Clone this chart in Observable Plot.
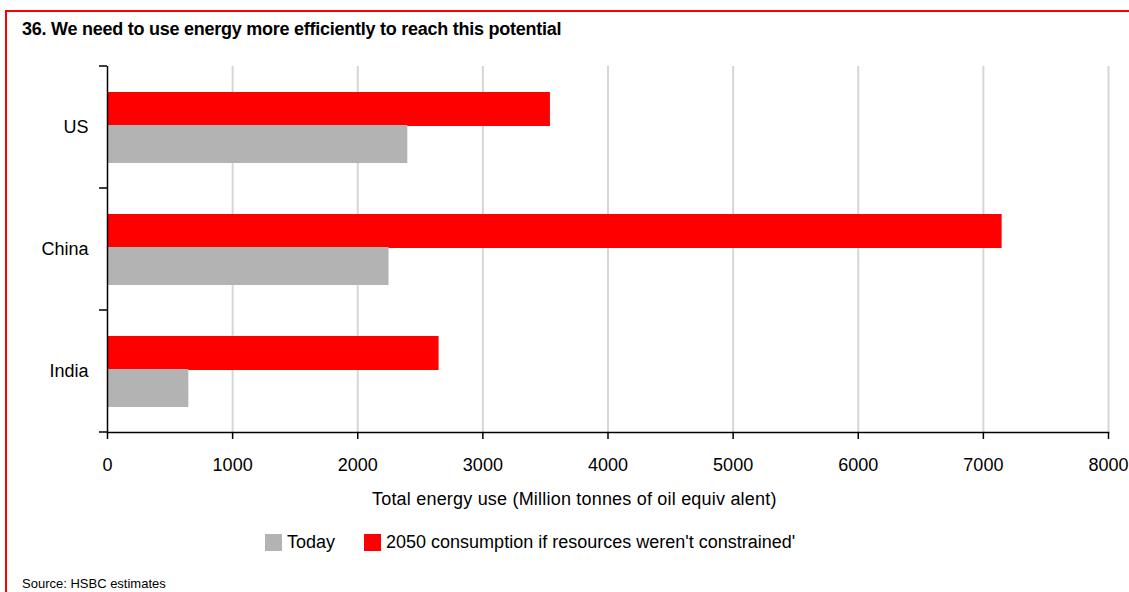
<!DOCTYPE html>
<html>
<head>
<meta charset="utf-8">
<script src="https://cdn.jsdelivr.net/npm/d3@7"></script>
<script src="https://cdn.jsdelivr.net/npm/@observablehq/plot@0.6"></script>
<style>
  html, body { margin: 0; padding: 0; background: #fff; width: 1129px; height: 592px; overflow: hidden; }
  body { font-family: "Liberation Sans", Arial, sans-serif; position: relative; }
  #frame { position: absolute; left: 5px; top: 10px; width: 1200px; height: 700px; border-left: 2px solid #ff0000; border-top: 2px solid #ff0000; }
  #title { position: absolute; left: 22px; top: 19px; font-family: "Liberation Sans", Arial, sans-serif; font-weight: bold; font-size: 18px; letter-spacing: -0.25px; color: #000; white-space: nowrap; }
  #chart { position: absolute; left: 0; top: 0; }
  #xlabel { position: absolute; left: 372px; top: 489px; font-size: 18px; letter-spacing: 0.2px; white-space: nowrap; color: #000; }
  #legend { position: absolute; left: 265px; top: 532px; font-size: 18px; white-space: nowrap; display: flex; align-items: center; }
  #legend .item { display: flex; align-items: center; margin-right: 29px; }
  #legend .sw { width: 17px; height: 17px; margin-right: 5px; display: inline-block; }
  #source { position: absolute; left: 22px; top: 576px; font-size: 13px; white-space: nowrap; }
</style>
</head>
<body>
<div id="frame"></div>
<div id="title">36. We need to use energy more efficiently to reach this potential</div>
<div id="chart"></div>
<div id="xlabel"></div>
<div id="legend"></div>
<div id="source">Source: HSBC estimates</div>
<script>
const countries = ["US", "China", "India"];
const todayValues = [2400, 2250, 650];
const future2050Values = [3540, 7150, 2650];
const seriesNames = ["Today", "2050 consumption if resources weren't constrained'"];
const seriesColors = ["#b3b3b3", "#ff0000"];
const xTicks = [0, 1000, 2000, 3000, 4000, 5000, 6000, 7000, 8000];
const xAxisLabel = "Total energy use (Million tonnes of oil equiv alent)";

const todayData = countries.map((c, i) => ({country: c, value: todayValues[i]}));
const futureData = countries.map((c, i) => ({country: c, value: future2050Values[i]}));

const chart = Plot.plot({
  width: 1129,
  height: 520,
  marginLeft: 107,
  marginRight: 21,
  marginTop: 66,
  marginBottom: 88,
  style: { fontFamily: "'Liberation Sans', Arial, sans-serif", fontSize: "18px", color: "#000", background: "transparent" },
  x: { domain: [0, 8000] },
  y: { domain: countries, padding: 0 },
  marks: [
    Plot.gridX(xTicks.filter(t => t > 0), { stroke: "#d6d6d6", strokeWidth: 2, strokeOpacity: 1 }),
    Plot.barX(futureData, { x: "value", y: "country", fill: seriesColors[1], insetTop: 26, insetBottom: 62 }),
    Plot.barX(todayData, { x: "value", y: "country", fill: seriesColors[0], insetTop: 59, insetBottom: 25 }),
    Plot.axisX(xTicks, { tickSize: 7, tickPadding: 19, label: null, tickFormat: d => String(d), strokeWidth: 1.5 }),
    Plot.axisY({ tickSize: 0, tickPadding: 19, label: null }),
    Plot.ruleX([0], { stroke: "#000", strokeWidth: 1.5 }),
    Plot.frame({ anchor: "bottom", stroke: "#000", strokeWidth: 1.5 })
  ]
});
document.getElementById("chart").appendChild(chart);

// boundary tick marks on the category axis, derived from the band scale
const ys = chart.scale("y");
const xs = chart.scale("x");
const bounds = ys.domain.map(d => ys.apply(d)).concat([ys.apply(ys.domain[ys.domain.length - 1]) + ys.bandwidth]);
const x0 = xs.apply(0);
const svg = d3.select(chart);
svg.append("g").attr("stroke", "#000").attr("stroke-width", 1.5)
  .selectAll("line").data(bounds).join("line")
  .attr("x1", x0 - 8).attr("x2", x0)
  .attr("y1", d => d).attr("y2", d => d);

document.getElementById("xlabel").textContent = xAxisLabel;
const legend = d3.select("#legend");
seriesNames.forEach((name, i) => {
  const item = legend.append("div").attr("class", "item");
  item.append("span").attr("class", "sw").style("background", seriesColors[i]);
  item.append("span").text(name);
});
</script>
</body>
</html>
